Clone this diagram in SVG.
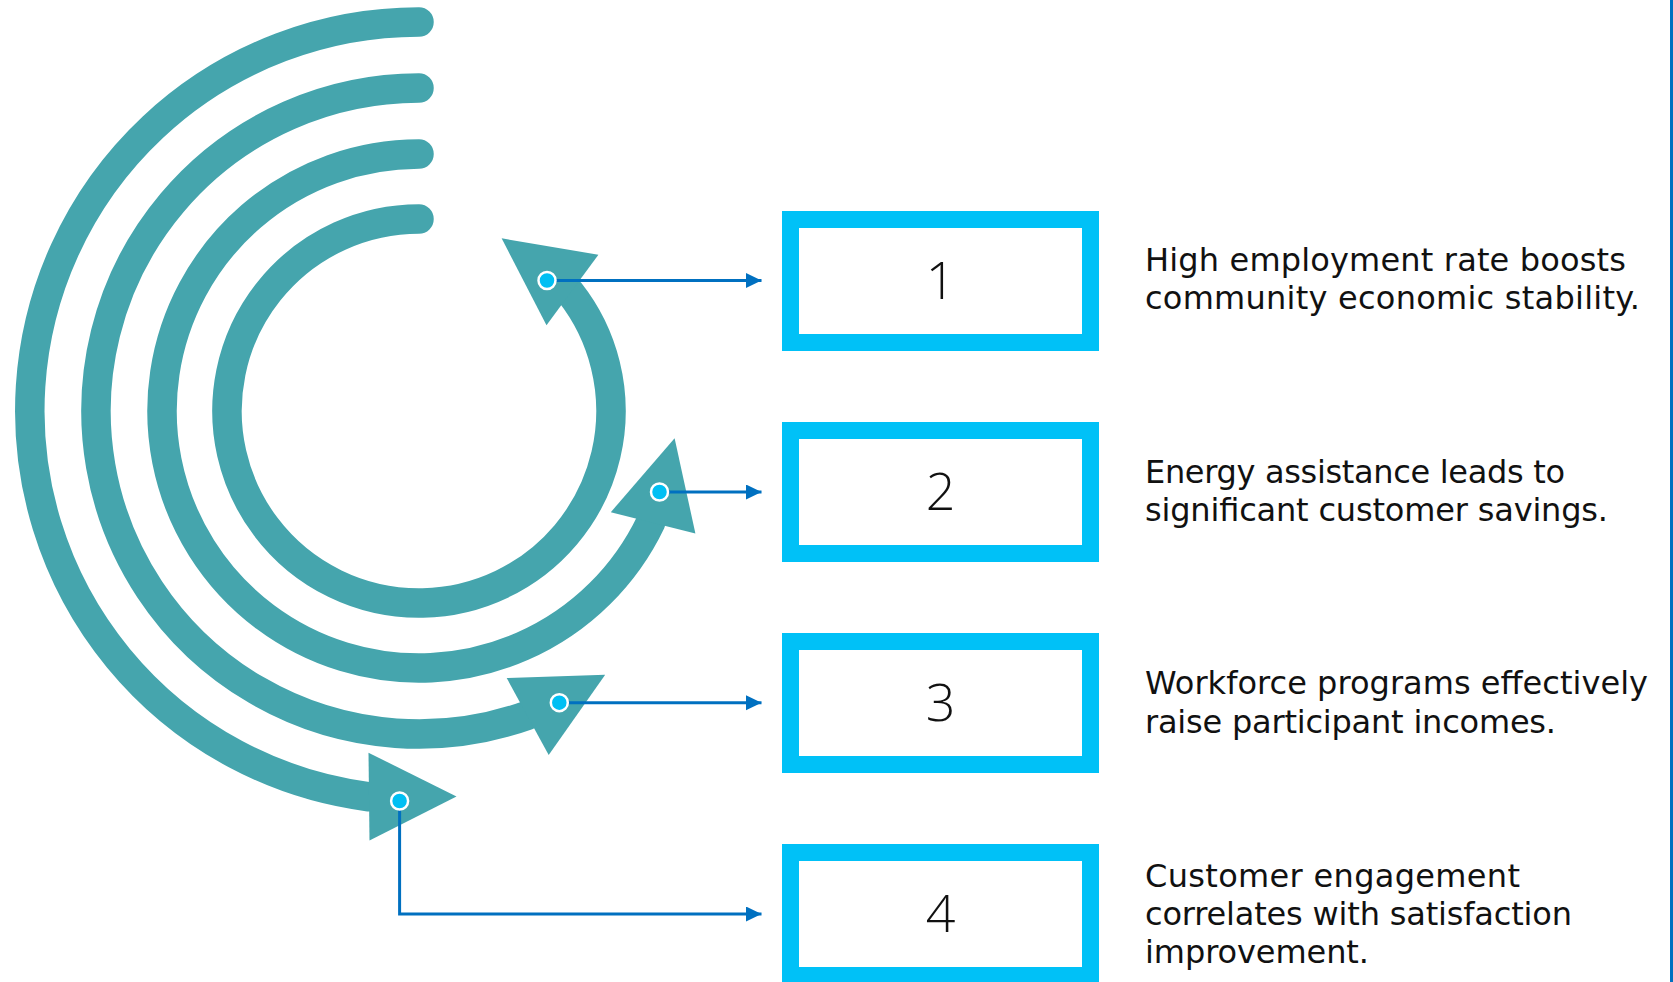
<svg xmlns="http://www.w3.org/2000/svg" width="1673" height="982" viewBox="0 0 1673 982">
  <defs>
    <style>
      .ring { fill: none; stroke: #45A5AD; stroke-width: 29.5; stroke-linecap: round; }
      .head { fill: #45A5AD; }
      .box { fill: #FFFFFF; stroke: #00C1F7; stroke-width: 17; }
      .num { font-family: "Open Sans", "Liberation Sans", sans-serif; font-weight: 300; font-size: 52px; fill: #111111; text-anchor: middle; }
      .desc { font-family: "DejaVu Sans", "Liberation Sans", sans-serif; font-size: 32px; fill: #111111; }
      .conn { fill: none; stroke: #0070C0; stroke-width: 3; }
      .dot { fill: #00BFF3; stroke: #FFFFFF; stroke-width: 2.5; }
    </style>
    <marker id="arr" markerUnits="userSpaceOnUse" markerWidth="16" markerHeight="16" refX="15.5" refY="7.5" orient="auto">
      <path d="M0,0 L15.5,7.5 L0,15 Z" fill="#0070C0"/>
    </marker>
  </defs>
  <rect x="0" y="0" width="1673" height="982" fill="#FFFFFF"/>
  <line x1="1671.5" y1="0" x2="1671.5" y2="982" stroke="#0070C0" stroke-width="3"/>

  <g id="rings">
    <g id="ring1">
      <path class="ring" d="M419,219 A192,192 0 1 0 569.8,292.2"/>
      <polygon class="head" points="501.6,238.3 598.4,254.7 546.5,325.3"/>
    </g>
    <g id="ring2">
      <path class="ring" d="M419,154 A257,257 0 1 0 650.9,521.8"/>
      <polygon class="head" points="674.6,438.3 695.4,533.5 610.8,512.2"/>
    </g>
    <g id="ring3">
      <path class="ring" d="M419,88 A323,323 0 1 0 527.3,715.3"/>
      <polygon class="head" points="605.2,674.8 548.7,755 506.7,678"/>
    </g>
    <g id="ring4">
      <path class="ring" d="M419,22 A389,389 0 0 0 369,796.8"/>
      <polygon class="head" points="456.5,796.5 369.5,840.5 368.5,752.7"/>
    </g>
  </g>

  <g id="connectors">
    <path class="conn" d="M547,280.5 L761.5,280.5" marker-end="url(#arr)"/>
    <path class="conn" d="M659.5,492 L761.5,492" marker-end="url(#arr)"/>
    <path class="conn" d="M559.3,702.7 L761.5,702.7" marker-end="url(#arr)"/>
    <path class="conn" d="M399.6,801 L399.6,914 L761.5,914" marker-end="url(#arr)"/>
    <circle class="dot" cx="547" cy="280.5" r="8.5"/>
    <circle class="dot" cx="659.5" cy="492" r="8.5"/>
    <circle class="dot" cx="559.3" cy="702.7" r="8.5"/>
    <circle class="dot" cx="399.6" cy="801" r="8.5"/>
  </g>

  <g id="node1">
    <rect class="box" x="790.5" y="219.5" width="300" height="123"/>
    <text class="num" x="940.5" y="298.5">1</text>
    <text class="desc" x="1145" y="271" textLength="481" lengthAdjust="spacing">High employment rate boosts</text>
    <text class="desc" x="1145" y="308.5" textLength="495" lengthAdjust="spacing">community economic stability.</text>
  </g>
  <g id="node2">
    <rect class="box" x="790.5" y="430.5" width="300" height="123"/>
    <text class="num" x="940.5" y="509.5">2</text>
    <text class="desc" x="1145" y="483.3" textLength="420" lengthAdjust="spacing">Energy assistance leads to</text>
    <text class="desc" x="1145" y="520.5" textLength="463" lengthAdjust="spacing">significant customer savings.</text>
  </g>
  <g id="node3">
    <rect class="box" x="790.5" y="641.5" width="300" height="123"/>
    <text class="num" x="940.5" y="720.5">3</text>
    <text class="desc" x="1145" y="694.3" textLength="503" lengthAdjust="spacing">Workforce programs effectively</text>
    <text class="desc" x="1145" y="732.5" textLength="411" lengthAdjust="spacing">raise participant incomes.</text>
  </g>
  <g id="node4">
    <rect class="box" x="790.5" y="852.5" width="300" height="123"/>
    <text class="num" x="940.5" y="931.5">4</text>
    <text class="desc" x="1145" y="887.3" textLength="375" lengthAdjust="spacing">Customer engagement</text>
    <text class="desc" x="1145" y="925.3" textLength="427" lengthAdjust="spacing">correlates with satisfaction</text>
    <text class="desc" x="1145" y="963.3" textLength="224" lengthAdjust="spacing">improvement.</text>
  </g>
</svg>
